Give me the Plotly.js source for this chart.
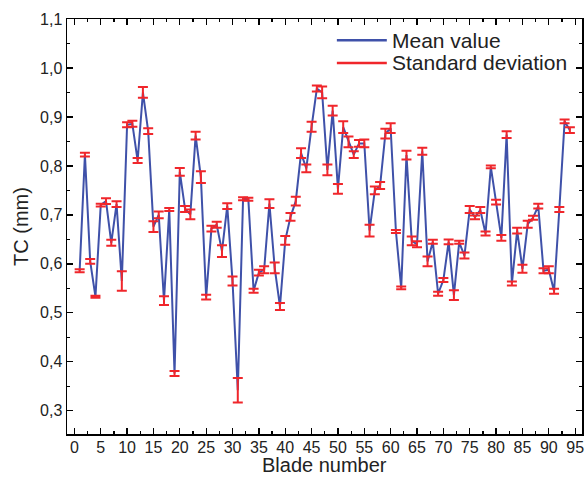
<!DOCTYPE html>
<html>
<head>
<meta charset="utf-8">
<script src="https://cdn.plot.ly/plotly-3.0.1.min.js"></script>
<style>html,body{margin:0;padding:0;background:#fff;}#chart{width:586px;height:477px;}</style>
</head>
<body>
<div id="chart"></div>
<script>
const bladeNumbers = [1,2,3,4,5,6,7,8,9,10,11,12,13,14,15,16,17,18,19,20,21,22,23,24,25,26,27,28,29,30,31,32,33,34,35,36,37,38,39,40,41,42,43,44,45,46,47,48,49,50,51,52,53,54,55,56,57,58,59,60,61,62,63,64,65,66,67,68,69,70,71,72,73,74,75,76,77,78,79,80,81,82,83,84,85,86,87,88,89,90,91,92,93,94];
const meanValues = [0.586,0.823,0.605,0.533,0.720,0.728,0.643,0.722,0.565,0.884,0.886,0.811,0.950,0.871,0.676,0.700,0.525,0.711,0.376,0.788,0.712,0.701,0.862,0.777,0.532,0.672,0.680,0.626,0.718,0.565,0.342,0.733,0.732,0.545,0.582,0.588,0.723,0.592,0.513,0.648,0.696,0.728,0.826,0.795,0.880,0.958,0.950,0.792,0.913,0.753,0.879,0.849,0.823,0.846,0.846,0.668,0.750,0.760,0.866,0.877,0.666,0.551,0.822,0.647,0.640,0.830,0.605,0.645,0.539,0.567,0.645,0.536,0.644,0.617,0.711,0.695,0.710,0.662,0.798,0.726,0.653,0.864,0.560,0.668,0.590,0.681,0.694,0.718,0.586,0.588,0.544,0.711,0.891,0.873];
const stdDevs = [0.003,0.004,0.005,0.002,0.003,0.006,0.006,0.006,0.020,0.005,0.006,0.005,0.011,0.006,0.011,0.007,0.009,0.003,0.005,0.008,0.006,0.010,0.008,0.012,0.005,0.006,0.006,0.012,0.006,0.009,0.025,0.003,0.003,0.004,0.006,0.007,0.009,0.011,0.007,0.009,0.008,0.009,0.010,0.008,0.010,0.006,0.012,0.011,0.010,0.010,0.012,0.011,0.007,0.007,0.008,0.012,0.008,0.007,0.010,0.010,0.003,0.003,0.009,0.009,0.006,0.007,0.010,0.004,0.004,0.004,0.005,0.010,0.003,0.006,0.007,0.004,0.006,0.004,0.003,0.005,0.006,0.007,0.004,0.006,0.008,0.007,0.004,0.005,0.005,0.007,0.005,0.005,0.004,0.006];
const xTickVals = [0,5,10,15,20,25,30,35,40,45,50,55,60,65,70,75,80,85,90,95];
const yTickVals = [0.3,0.4,0.5,0.6,0.7,0.8,0.9,1.0,1.1];
const yTickText = ["0,3","0,4","0,5","0,6","0,7","0,8","0,9","1,0","1,1"];
const seriesNames = ["Mean value", "Standard deviation"];
const xTitle = "Blade number";
const yTitle = "TC (mm)";

const blue = '#3f51a9';
const red = '#f0262b';
const font = 'Arial, "Liberation Sans", sans-serif';

const traces = [
  {x: bladeNumbers, y: meanValues, mode: 'lines', name: seriesNames[0], showlegend: false,
   line: {color: blue, width: 2}},
  {x: bladeNumbers, y: meanValues, mode: 'markers', name: seriesNames[1], showlegend: false, hoverinfo: 'skip',
   marker: {size: 1, opacity: 0},
   error_y: {type: 'data', array: stdDevs, visible: true, color: red, thickness: 2, width: 5}}
];

const axisCommon = {
  showline: true, linecolor: '#000', linewidth: 1.5, mirror: 'ticks',
  ticks: 'inside', ticklen: 6, tickwidth: 1.3, tickcolor: '#000',
  showgrid: false, zeroline: false,
  tickfont: {family: font, size: 16, color: '#222'}
};

// manual legend (line samples + labels), positioned in paper coordinates
const legRows = [0.949, 0.894];
const legColors = [blue, red];
const shapes = legRows.map((yy, i) => ({
  type: 'line', xref: 'paper', yref: 'paper', x0: 0.524, x1: 0.621, y0: yy, y1: yy,
  line: {color: legColors[i], width: 2.5}
}));
const annotations = legRows.map((yy, i) => ({
  xref: 'paper', yref: 'paper', x: 0.627, y: yy, xanchor: 'left', yanchor: 'middle',
  text: seriesNames[i], showarrow: false,
  font: {family: font, size: 21, color: '#222'}
}));
// x-axis title placed as text just under the tick labels
annotations.push({
  xref: 'paper', yref: 'paper', x: 0.5, y: -0.1025, xanchor: 'center', yanchor: 'bottom',
  text: xTitle, showarrow: false, borderpad: 0,
  font: {family: font, size: 20, color: '#222'}
});

const layout = {
  width: 586, height: 477,
  margin: {l: 67, r: 4, t: 19, b: 43},
  paper_bgcolor: '#fff', plot_bgcolor: '#fff',
  showlegend: false,
  shapes: shapes,
  annotations: annotations,
  xaxis: Object.assign({}, axisCommon, {
    range: [-1.4, 96.3], tickmode: 'array', tickvals: xTickVals,
    ticklabelstandoff: -2,
    minor: {dtick: 2.5, tick0: 0, ticks: 'inside', ticklen: 3, tickwidth: 1.2, tickcolor: '#000'}
  }),
  yaxis: Object.assign({}, axisCommon, {
    range: [0.2526, 1.1], tickmode: 'array', tickvals: yTickVals, ticktext: yTickText,
    minor: {dtick: 0.05, tick0: 0, ticks: 'inside', ticklen: 3, tickwidth: 1.2, tickcolor: '#000'},
    title: {text: yTitle, font: {family: font, size: 20, color: '#222'}, standoff: 6}
  })
};

Plotly.newPlot('chart', traces, layout, {displayModeBar: false, staticPlot: true});
</script>
</body>
</html>
